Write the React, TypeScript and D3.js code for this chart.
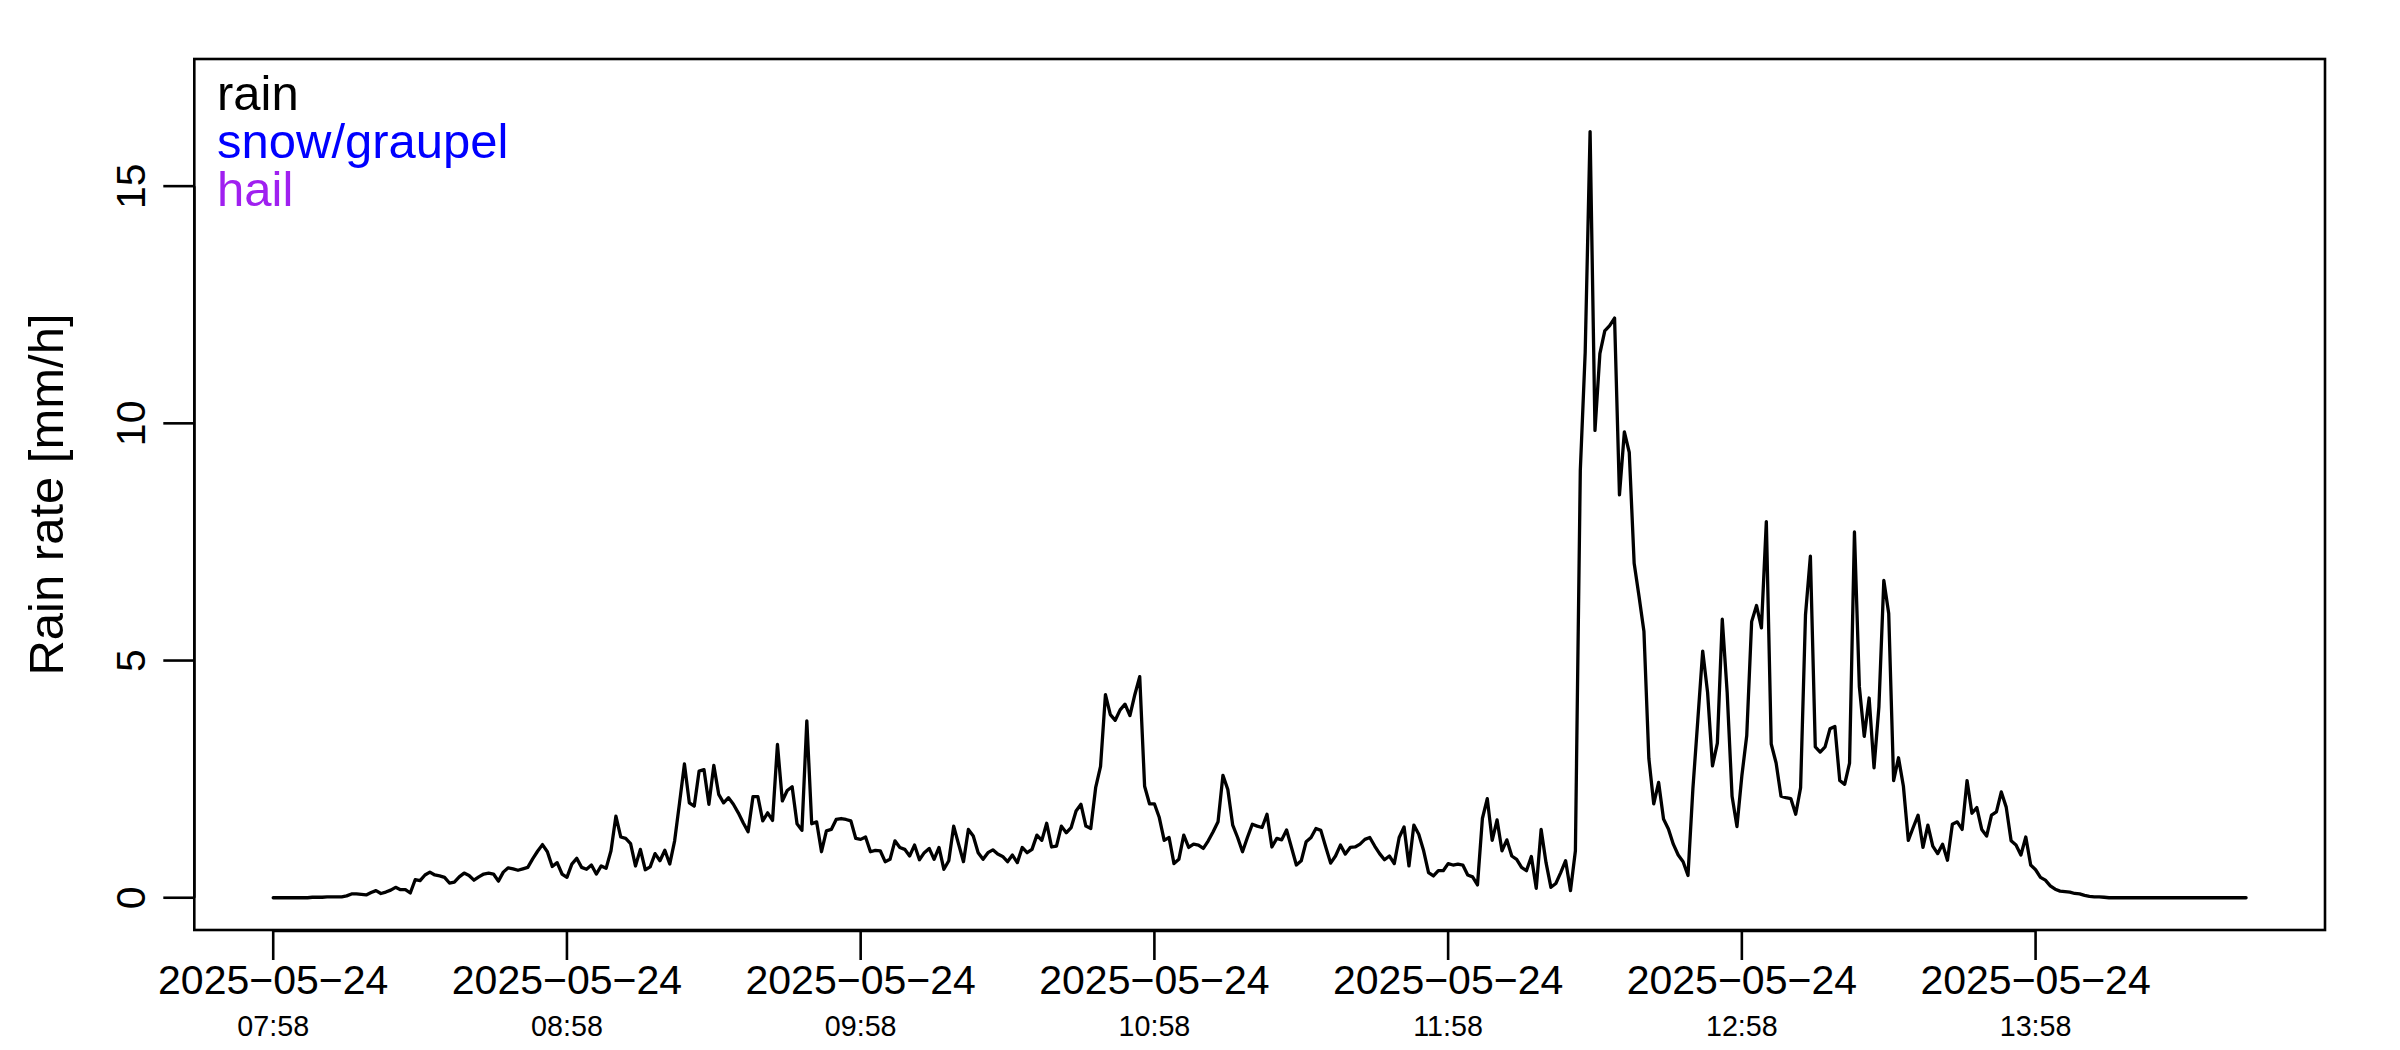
import React, { useEffect, useRef } from "react";
import * as d3 from "d3";

// one reading per minute, starting 2025-05-24 07:58
const startTime = new Date(2025, 4, 24, 7, 58);

const rainRate: number[] = [
  0, 0, 0, 0, 0, 0, 0, 0, 0.01, 0.01, 0.01, 0.02, 0.02, 0.02, 0.02,
  0.04, 0.08, 0.08, 0.07, 0.06, 0.11, 0.15, 0.09, 0.12, 0.16,
  0.22, 0.17, 0.17, 0.1, 0.38, 0.36, 0.48, 0.54, 0.48, 0.46,
  0.43, 0.31, 0.33, 0.44, 0.52, 0.47, 0.37, 0.44, 0.5, 0.52,
  0.5, 0.35, 0.54, 0.63, 0.61, 0.58, 0.61, 0.64, 0.82, 0.98,
  1.12, 0.97, 0.66, 0.74,
  0.5, 0.43, 0.71, 0.83, 0.64, 0.6, 0.69, 0.5, 0.67, 0.62,
  0.99, 1.72, 1.28, 1.25, 1.14, 0.67, 1.02, 0.59, 0.65, 0.93,
  0.78, 1.0, 0.71, 1.2, 2.0, 2.82, 2.0, 1.93, 2.67, 2.7,
  1.97, 2.79, 2.18, 2.0, 2.11, 1.97, 1.79, 1.58, 1.39, 2.13,
  2.13, 1.62, 1.79, 1.63, 3.23, 2.04, 2.26, 2.34, 1.56, 1.42,
  3.73, 1.56, 1.6, 0.97, 1.41, 1.44, 1.65, 1.67, 1.65, 1.62,
  1.25, 1.23, 1.28, 0.97, 1.0,
  0.99, 0.76, 0.81, 1.2, 1.06, 1.02, 0.88, 1.11, 0.8, 0.95,
  1.04, 0.81, 1.06, 0.6, 0.78, 1.51, 1.13, 0.76, 1.44, 1.3,
  0.95, 0.81, 0.95, 1.01, 0.92, 0.87, 0.76, 0.9, 0.74, 1.06,
  0.95, 1.02, 1.32, 1.21, 1.57, 1.07, 1.09, 1.51, 1.37, 1.48,
  1.83, 1.97, 1.51, 1.46, 2.32, 2.77, 4.28, 3.86, 3.74, 3.96,
  4.08, 3.84, 4.28, 4.66, 2.35, 1.98, 1.98, 1.69, 1.21,
  1.27, 0.72, 0.81, 1.32, 1.06, 1.13, 1.11, 1.04, 1.2, 1.39,
  1.6, 2.58, 2.28, 1.53, 1.27, 0.97, 1.27, 1.55, 1.51, 1.48,
  1.76, 1.07, 1.25, 1.22, 1.43, 1.06, 0.69, 0.78, 1.18, 1.27,
  1.46, 1.42, 1.07, 0.73, 0.88, 1.11, 0.92, 1.06, 1.07, 1.13,
  1.23, 1.27, 1.09, 0.93, 0.8, 0.88, 0.72, 1.27, 1.49, 0.67,
  1.53, 1.34, 0.99, 0.53, 0.46, 0.57, 0.57, 0.72, 0.69, 0.71,
  0.69, 0.48, 0.44, 0.27, 1.67, 2.09, 1.21, 1.64, 0.99, 1.22,
  0.88, 0.81, 0.64, 0.57, 0.87, 0.2, 1.44, 0.74, 0.22, 0.3,
  0.53, 0.78, 0.15, 0.99, 9.0, 11.5, 16.15, 9.85, 11.47, 11.95,
  12.06, 12.22, 8.49, 9.82, 9.39, 7.05, 6.35, 5.61, 2.94, 1.98,
  2.43, 1.66, 1.45, 1.13, 0.9, 0.76, 0.47, 2.3, 3.74, 5.2,
  4.33, 2.78, 3.26, 5.87, 4.33, 2.14, 1.5, 2.57, 3.42, 5.82,
  6.16, 5.69, 7.93, 3.24, 2.84, 2.14, 2.11, 2.09, 1.76, 2.32,
  5.96, 7.2, 3.18, 3.07, 3.18, 3.56, 3.61, 2.47, 2.39, 2.84,
  7.71, 4.45, 3.4, 4.21, 2.74, 4.03, 6.69, 5.99, 2.47, 2.95,
  2.35, 1.21, 1.48, 1.74, 1.06, 1.53, 1.09, 0.93, 1.13, 0.79,
  1.55, 1.6, 1.44, 2.47, 1.78, 1.9, 1.44, 1.3, 1.74, 1.81,
  2.23, 1.91, 1.2, 1.11, 0.9, 1.28, 0.69, 0.59, 0.43, 0.37,
  0.25, 0.18, 0.14, 0.13, 0.12, 0.09, 0.08, 0.05, 0.03, 0.02,
  0.02, 0.01,
  0, 0, 0, 0, 0, 0, 0, 0, 0, 0, 0, 0, 0, 0, 0,
  0, 0, 0, 0, 0, 0, 0, 0, 0, 0, 0, 0, 0, 0,
];

const legendLabels = ["rain", "snow/graupel", "hail"];
const legendColors = ["#000000", "#0000ff", "#a020f0"];
const yTicks = [0, 5, 10, 15];
const xTickHours = [0, 1, 2, 3, 4, 5, 6];
const yTitle = "Rain rate [mm/h]";

const W = 2400;
const H = 1050;
const FONT = "'Liberation Sans', Arial, Helvetica, sans-serif";

const App: React.FC = () => {
  const svgRef = useRef<SVGSVGElement | null>(null);

  useEffect(() => {
    const svg = d3.select(svgRef.current);
    svg.selectAll("*").remove();

    const left = 194.3;
    const right = 2325;
    const top = 59;
    const bottom = 930;
    const lw = 2.6;

    const minute = 60000;
    const span = (rainRate.length - 1) * minute;
    const pad = span * 0.04;
    const t0 = startTime.getTime();

    // R style: 4% padding on both axes, ylim c(0, 17)
    const x = d3
      .scaleTime()
      .domain([new Date(t0 - pad), new Date(t0 + span + pad)])
      .range([left, right]);
    const y = d3.scaleLinear().domain([-0.68, 17.68]).range([bottom, top]);

    const line = d3
      .line<number>()
      .x((d, i) => x(new Date(t0 + i * minute)))
      .y((d) => y(d));

    svg
      .append("path")
      .datum(rainRate)
      .attr("d", line)
      .attr("fill", "none")
      .attr("stroke", "black")
      .attr("stroke-width", 3.3)
      .attr("stroke-linejoin", "round")
      .attr("stroke-linecap", "round");

    svg
      .append("rect")
      .attr("x", left)
      .attr("y", top)
      .attr("width", right - left)
      .attr("height", bottom - top)
      .attr("fill", "none")
      .attr("stroke", "black")
      .attr("stroke-width", lw);

    // x axis
    const tickTimes = xTickHours.map((h) => new Date(t0 + h * 60 * minute));
    const fmtDate = d3.timeFormat("%Y-%m-%d");
    const fmtTime = d3.timeFormat("%H:%M");
    const gx = svg.append("g");
    gx.append("line")
      .attr("x1", x(tickTimes[0]))
      .attr("x2", x(tickTimes[tickTimes.length - 1]))
      .attr("y1", bottom + 1)
      .attr("y2", bottom + 1)
      .attr("stroke", "black")
      .attr("stroke-width", lw);
    const xt = gx
      .selectAll("g.tick")
      .data(tickTimes)
      .enter()
      .append("g")
      .attr("transform", (d) => `translate(${x(d)},0)`);
    xt.append("line")
      .attr("y1", bottom)
      .attr("y2", bottom + 30)
      .attr("stroke", "black")
      .attr("stroke-width", lw);
    xt.append("text")
      .attr("y", 994)
      .attr("text-anchor", "middle")
      .attr("font-size", 41)
      .attr("font-family", FONT)
      .text((d) => fmtDate(d).replace(/-/g, "\u2212"));
    xt.append("text")
      .attr("y", 1036)
      .attr("text-anchor", "middle")
      .attr("font-size", 28.7)
      .attr("font-family", FONT)
      .text((d) => fmtTime(d));

    // y axis
    const gy = svg.append("g");
    gy.append("line")
      .attr("x1", left)
      .attr("x2", left)
      .attr("y1", y(yTicks[0]))
      .attr("y2", y(yTicks[yTicks.length - 1]))
      .attr("stroke", "black")
      .attr("stroke-width", lw);
    const yt = gy
      .selectAll("g.tick")
      .data(yTicks)
      .enter()
      .append("g")
      .attr("transform", (d) => `translate(0,${y(d)})`);
    yt.append("line")
      .attr("x1", left - 31)
      .attr("x2", left)
      .attr("stroke", "black")
      .attr("stroke-width", lw);
    yt.append("text")
      .attr("transform", "translate(145,0) rotate(-90)")
      .attr("text-anchor", "middle")
      .attr("font-size", 41)
      .attr("font-family", FONT)
      .text((d) => String(d));

    svg
      .append("text")
      .attr("transform", `translate(63,${(top + bottom) / 2}) rotate(-90)`)
      .attr("text-anchor", "middle")
      .attr("font-size", 49)
      .attr("font-family", FONT)
      .text(yTitle);

    // legend, text only
    svg
      .append("g")
      .selectAll("text")
      .data(legendLabels)
      .enter()
      .append("text")
      .attr("x", 217)
      .attr("y", (d, i) => 110 + i * 48)
      .attr("font-size", 49)
      .attr("font-family", FONT)
      .attr("fill", (d, i) => legendColors[i])
      .text((d) => d);
  }, []);

  return (
    <svg
      ref={svgRef}
      width={W}
      height={H}
      style={{ position: "absolute", left: 0, top: 0, background: "#ffffff" }}
    ></svg>
  );
};

export default App;
